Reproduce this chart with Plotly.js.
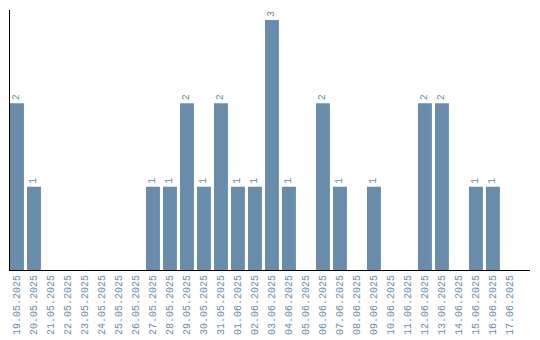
<!DOCTYPE html>
<html><head><meta charset="utf-8">
<script src="https://cdn.plot.ly/plotly-3.0.1.min.js"></script>
<style>html,body{margin:0;padding:0;background:#fff}</style>
</head><body><div id="chart" style="width:540px;height:340px"></div>
<script>
const dates = ["19.05.2025","20.05.2025","21.05.2025","22.05.2025","23.05.2025","24.05.2025","25.05.2025","26.05.2025","27.05.2025","28.05.2025","29.05.2025","30.05.2025","31.05.2025","01.06.2025","02.06.2025","03.06.2025","04.06.2025","05.06.2025","06.06.2025","07.06.2025","08.06.2025","09.06.2025","10.06.2025","11.06.2025","12.06.2025","13.06.2025","14.06.2025","15.06.2025","16.06.2025","17.06.2025"];
const counts = [2,1,0,0,0,0,0,0,1,1,2,1,2,1,1,3,1,0,2,1,0,1,0,0,2,2,0,1,1,0];
const barColor = "#6a8cab";
const labels = counts.map(v => v > 0 ? String(v) : "");
Plotly.newPlot("chart", [{
  type: "bar", x: dates, y: counts, marker: {color: barColor},
  text: labels, textposition: "outside", textangle: -90, cliponaxis: false,
  textfont: {family: "Liberation Mono", size: 10, color: barColor},
  hoverinfo: "none"
}], {
  width: 540, height: 340,
  margin: {l: 10, r: 10, t: 10, b: 70},
  paper_bgcolor: "#fff", plot_bgcolor: "#fff",
  bargap: 0.18, showlegend: false,
  xaxis: {type: "category", range: [-0.41, 30.18], showline: true, linecolor: "#000", linewidth: 1,
    ticks: "", tickangle: -90, showgrid: false, zeroline: false,
    tickfont: {family: "Liberation Mono", size: 10, color: barColor}},
  yaxis: {range: [0, 3.12], showline: true, linecolor: "#000", linewidth: 1, showticklabels: false,
    ticks: "", showgrid: false, zeroline: false}
}, {staticPlot: true});
</script></body></html>
